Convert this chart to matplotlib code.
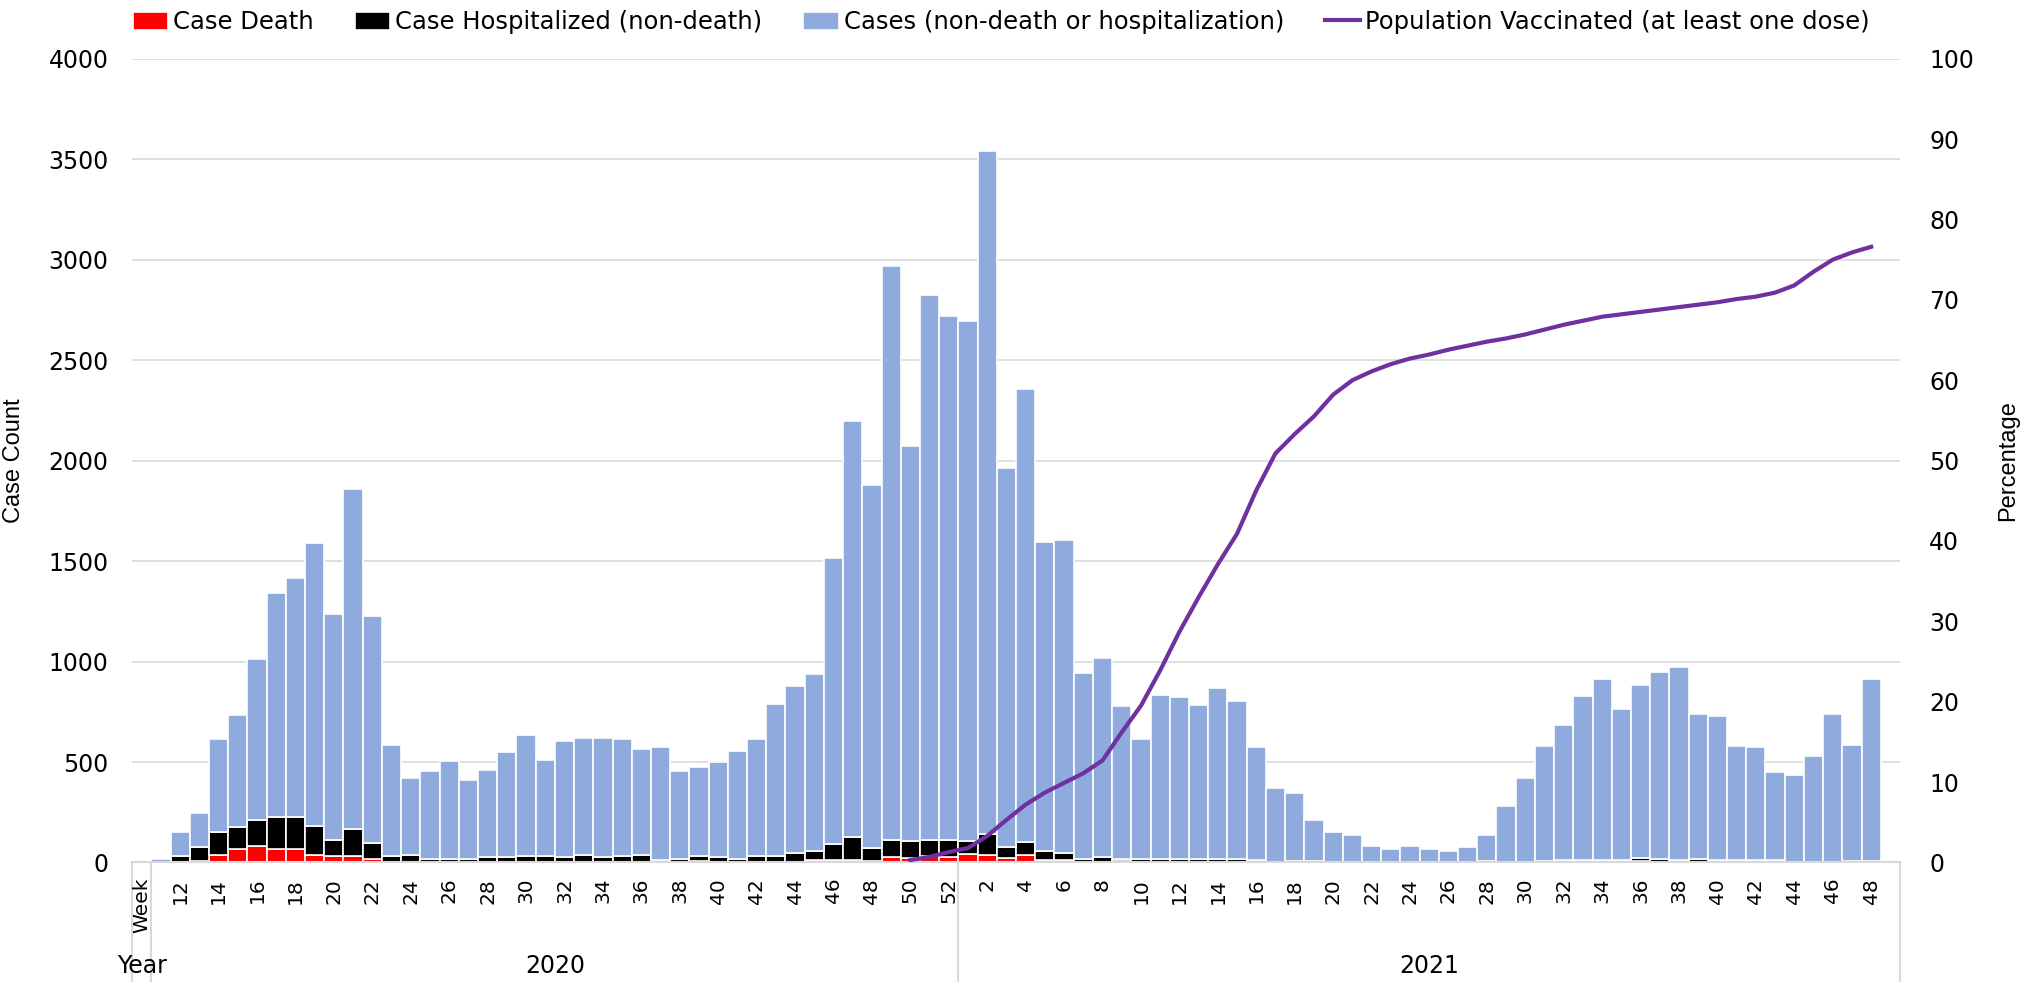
import matplotlib
matplotlib.use("Agg")
import matplotlib.pyplot as plt
import matplotlib.transforms as mtransforms
import numpy as np

plt.rcParams['font.family'] = ['DejaVu Sans']

# Weeks: 2020 w11-w52, 2021 w1-w48
weeks_2020 = list(range(11, 53))
weeks_2021 = list(range(1, 49))
years = ["2020", "2021"]

deaths = [0, 0, 8, 38, 68, 81, 68, 68, 37, 30, 30, 18,
          0, 0, 0, 0, 0, 0, 0, 0, 0, 0, 0, 0, 0, 0, 0, 0,
          8, 0, 0, 0, 0, 0, 12, 12, 12, 8, 28, 22, 33, 28,
          42, 35, 22, 35, 12, 12, 0, 0, 8, 0, 0, 0, 0, 0, 0, 0,
          0, 0, 0, 0, 0, 0, 0, 0, 0, 0, 0, 0, 0, 0, 0, 0,
          0, 0, 0, 8, 0, 0, 0, 0, 0, 0, 0, 0, 0, 0, 0, 0, 0, 0][:90]

hosp = [0, 30, 67, 113, 108, 128, 159, 159, 146, 84, 139, 77,
        30, 37, 18, 18, 18, 25, 25, 30, 30, 25, 37, 25, 30, 37, 12, 18,
        25, 27, 18, 33, 33, 45, 45, 79, 116, 62, 83, 83, 78, 83,
        63, 109, 56, 65, 43, 36, 17, 25, 10, 18, 18, 18, 18, 18, 18, 13,
        3, 8, 8, 3, 0, 0, 0, 0, 0, 0, 0, 8, 0, 0, 8, 12,
        12, 12, 12, 14, 18, 12, 18, 12, 12, 12, 12, 0, 0, 0, 8, 8]

other = [18, 122, 170, 462, 557, 804, 1112, 1189, 1409, 1123, 1690, 1134,
         557, 382, 435, 486, 393, 436, 524, 602, 482, 580, 582, 594, 583, 528, 561, 435,
         442, 472, 539, 580, 754, 835, 882, 1424, 2067, 1807, 2855, 1970, 2713, 2607,
         2589, 3395, 1887, 2255, 1542, 1557, 924, 994, 761, 595, 817, 806, 766, 849, 785, 560,
         370, 339, 205, 149, 136, 80, 67, 80, 67, 59, 75, 128, 280, 419, 571, 671,
         815, 900, 753, 863, 929, 961, 721, 719, 567, 561, 436, 435, 528, 739, 579, 904]

vacc = [np.nan] * 39 + [
    0.3, 0.7, 1.3, 1.8, 3.3, 5.3, 7.2, 8.7, 9.9, 11.1, 12.7, 16.2,
    19.5, 23.9, 28.7, 33.0, 37.1, 40.9, 46.3, 50.9, 53.3, 55.5, 58.2, 60.0,
    61.1, 62.0, 62.7, 63.2, 63.8, 64.3, 64.8, 65.2, 65.7, 66.3, 66.9, 67.4,
    67.9, 68.2, 68.5, 68.8, 69.1, 69.4, 69.7, 70.1, 70.4, 70.9, 71.8, 73.5,
    75.0, 75.9, 76.6]

weeks = weeks_2020 + weeks_2021
x = np.arange(len(weeks))
deaths = np.array(deaths)
hosp = np.array(hosp)
other = np.array(other)

fig = plt.figure(figsize=(20.23, 9.82), dpi=100)
ax = fig.add_axes([0.0653, 0.1217, 0.8739, 0.8185])

ax.bar(x, deaths, width=1.0, color="#FF0000", edgecolor="white", linewidth=1.2,
       label="Case Death", zorder=2)
ax.bar(x, hosp, width=1.0, bottom=deaths, color="#000000", edgecolor="white",
       linewidth=1.2, label="Case Hospitalized (non-death)", zorder=2)
ax.bar(x, other, width=1.0, bottom=deaths + hosp, color="#8FAADC", edgecolor="white",
       linewidth=1.2, label="Cases (non-death or hospitalization)", zorder=2)

ax.set_xlim(-1.5, 90.5)
ax.set_ylim(0, 4000)
ax.set_yticks(np.arange(0, 4001, 500))
ax.grid(axis="y", color="#d9d9d9", linewidth=1.2, zorder=0)
ax.set_axisbelow(True)
for s in ["top", "right", "left"]:
    ax.spines[s].set_visible(False)
ax.spines["bottom"].set_color("#d9d9d9")
ax.spines["bottom"].set_linewidth(1.5)
ax.tick_params(axis="y", length=0, pad=17, labelsize=17)

tick_pos = [i for i, w in enumerate(weeks) if w % 2 == 0]
ax.set_xticks(tick_pos)
ax.set_xticklabels([str(weeks[i]) for i in tick_pos], rotation=90, va="top", ha="center")
ax.tick_params(axis="x", length=0, pad=11, labelsize=14.5)

ax.set_ylabel("Case Count", fontsize=17, family="Liberation Sans")
ax.yaxis.set_label_coords(-0.0605, 0.5)

ax2 = ax.twinx()
ax2.plot(x, vacc, color="#7030A0", linewidth=3,
         label="Population Vaccinated (at least one dose)", zorder=3)
ax2.set_ylim(0, 100)
ax2.set_yticks(np.arange(0, 101, 10))
for s in ax2.spines.values():
    s.set_visible(False)
ax2.tick_params(axis="y", length=0, pad=21, labelsize=17)
ax2.set_ylabel("Percentage", fontsize=17, family="Liberation Sans")
ax2.yaxis.set_label_coords(1.0548, 0.5)

# multi-level category axis
trans = mtransforms.blended_transform_factory(ax.transData, ax.transAxes)
for xv in [-1.5, -0.5, 41.5, 90.5]:
    ax.plot([xv, xv], [0, -0.16], transform=trans, clip_on=False,
            color="#d9d9d9", linewidth=1.5)
ax.text(-1.0, -0.019, "Week", transform=trans, rotation=90, va="top", ha="center",
        fontsize=14.5)
ax.text(-1.0, -0.129, "Year", transform=trans, va="center", ha="center", fontsize=17)
ax.text(20.5, -0.129, years[0], transform=trans, va="center", ha="center", fontsize=17)
ax.text(66.0, -0.129, years[1], transform=trans, va="center", ha="center", fontsize=17)

h1, l1 = ax.get_legend_handles_labels()
h2, l2 = ax2.get_legend_handles_labels()
fig.legend(h1 + h2, l1 + l2, loc="upper center", bbox_to_anchor=(0.495, 1.012), ncol=4,
           frameon=False, fontsize=17.5, handlelength=1.45, handleheight=0.75,
           handletextpad=0.2, columnspacing=1.7)

fig.savefig("out.png", dpi=100)
